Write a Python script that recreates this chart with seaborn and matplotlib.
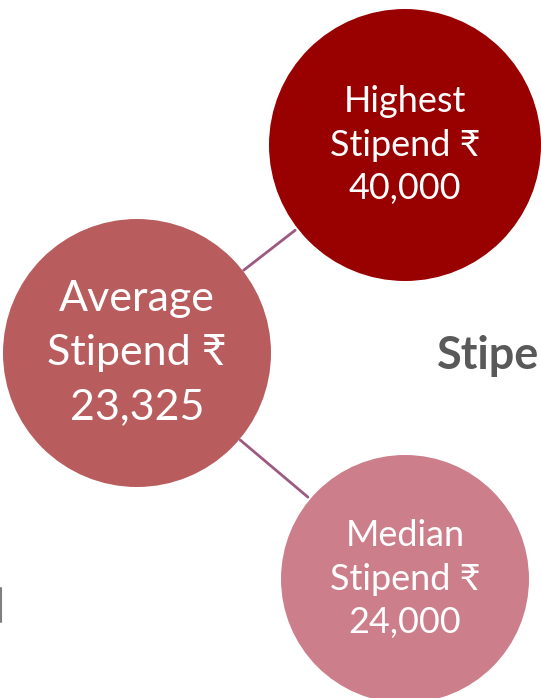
import numpy as np
import pandas as pd
import matplotlib.pyplot as plt
import seaborn as sns

# stipend summary figures
labels = ["Highest", "Average", "Median"]
values = [40000, 23325, 24000]
colors = ["#990000", "#b95c5d", "#cd7e8b"]

# layout in pixel space (x, y from top-left) and radius in px
centers_x = [405, 137, 405]
centers_y = [145, 353, 579]
radii = [136, 134, 124]
font_px = [36, 43, 36]
line_gap = [44, 54, 44]

sns.set_theme(style="white")
plt.rcParams['font.family'] = ['Lato', 'DejaVu Sans']

W, H, DPI = 541, 698, 100
fig = plt.figure(figsize=(W / DPI, H / DPI), dpi=DPI)
ax = fig.add_axes([0, 0, 1, 1])
ax.set_xlim(0, W)
ax.set_ylim(H, 0)
ax.axis("off")

px2pt = 72 / DPI
df = pd.DataFrame({"label": labels, "x": centers_x, "y": centers_y})
sizes = {lab: (2 * r * px2pt) ** 2 for lab, r in zip(labels, radii)}

# connectors from Average to the other two, edge to edge
avg = 1
for i in (0, 2):
    p0 = np.array([centers_x[avg], centers_y[avg]], float)
    p1 = np.array([centers_x[i], centers_y[i]], float)
    u = (p1 - p0) / np.linalg.norm(p1 - p0)
    a = p0 + u * (radii[avg] + 1)
    b = p1 - u * (radii[i] + 3)
    ax.plot([a[0], b[0]], [a[1], b[1]], color="#9c5a80", lw=2, zorder=1)

sns.scatterplot(data=df, x="x", y="y", hue="label", palette=dict(zip(labels, colors)),
                size="label", sizes=sizes, linewidth=0, legend=False, ax=ax, zorder=2)

for i, lab in enumerate(labels):
    lines = [lab, "Stipend \u20b9", f"{values[i]:,}"]
    for k, t in enumerate(lines):
        ax.text(centers_x[i], centers_y[i] + (k - 1) * line_gap[i], t,
                ha="center", va="center", color="white",
                fontsize=font_px[i] * px2pt, zorder=3)

ax.text(437, 369, "Stipe", ha="left", va="baseline", color="#595959",
        fontsize=45 * px2pt, fontweight="bold")
ax.plot([1, 1], [588, 622], color="#7f7f7f", lw=1.5)

fig.savefig("out.png", dpi=DPI)
